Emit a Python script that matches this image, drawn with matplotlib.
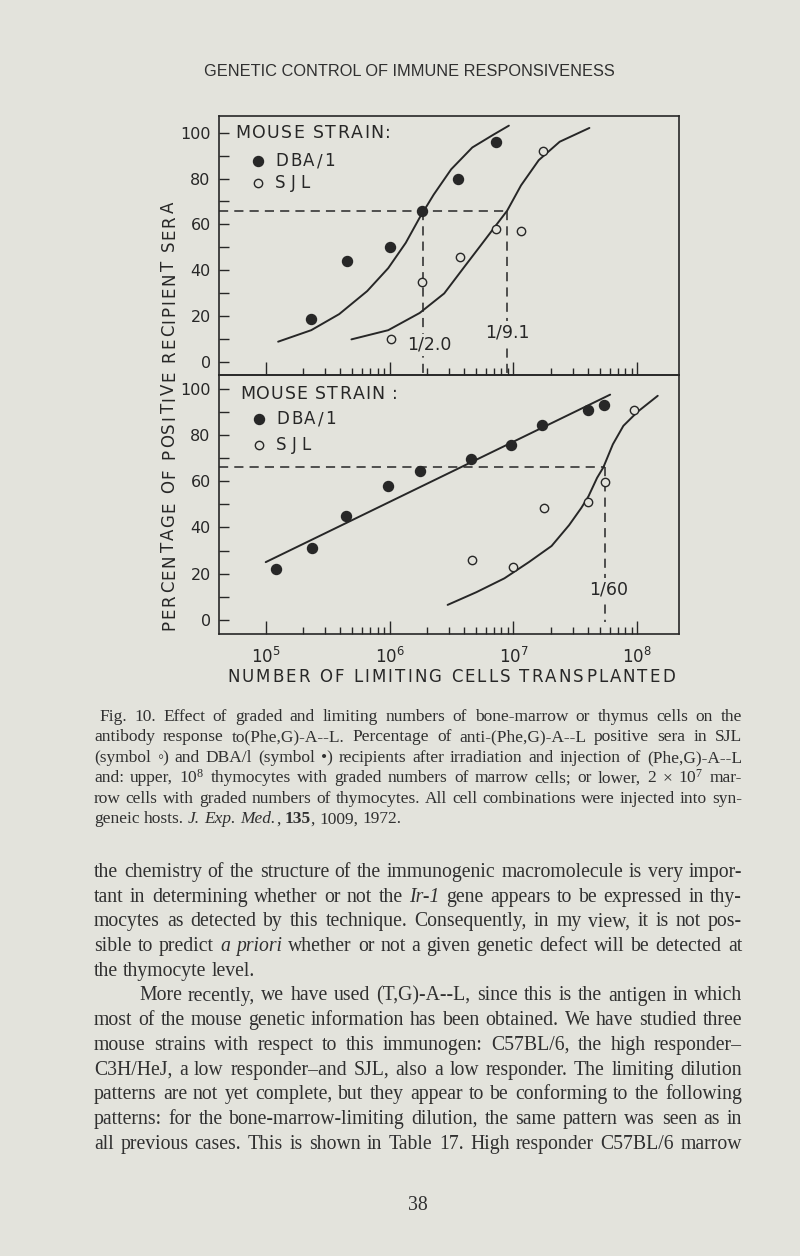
import re

import matplotlib
import matplotlib.pyplot as plt
from matplotlib.ticker import FixedLocator

matplotlib.use("Agg")

plt.rcParams["mathtext.fontset"] = "custom"
plt.rcParams["mathtext.rm"] = "Liberation Serif"
plt.rcParams["mathtext.it"] = "Liberation Serif:italic"
plt.rcParams["mathtext.bf"] = "Liberation Serif:bold"
plt.rcParams["mathtext.sf"] = "DejaVu Sans"

W, H = 800, 1256
BG = "#e3e3dc"
INK = "#272727"
TXT = "#303030"
SANS = ["DejaVu Sans"]
SERIF = ["Liberation Serif", "DejaVu Sans"]

# ---- values ----
x_ticks = [1e5, 1e6, 1e7, 1e8]
x_tick_labels = [r"$\mathsf{10^{5}}$", r"$\mathsf{10^{6}}$",
                 r"$\mathsf{10^{7}}$", r"$\mathsf{10^{8}}$"]
y_ticks = [0, 20, 40, 60, 80, 100]
y_tick_labels = ["0", "20", "40", "60", "80", "100"]

# upper panel: 10^8 thymocytes + graded marrow
upper_dba_x = [2.33e5, 4.55e5, 1.01e6, 1.82e6, 3.58e6, 7.23e6]
upper_dba_y = [19, 44, 50, 66, 80, 96]
upper_sjl_x = [1.03e6, 1.83e6, 3.67e6, 7.23e6, 1.16e7, 1.74e7]
upper_sjl_y = [10, 35, 46, 58, 57, 92]
upper_dba_curve_x = [1.26e5, 2.33e5, 3.92e5, 6.59e5, 9.75e5, 1.35e6,
                     1.75e6, 2.27e6, 3.14e6, 4.65e6, 6.85e6, 9.18e6]
upper_dba_curve_y = [9, 14, 21, 31, 41, 52, 63, 73, 84, 93.5, 99, 103]
upper_sjl_curve_x = [4.92e5, 9.75e5, 1.75e6, 2.76e6, 4.07e6, 5.64e6,
                     7.31e6, 8.89e6, 1.15e7, 1.60e7, 2.36e7, 4.10e7]
upper_sjl_curve_y = [10, 14, 21.5, 30, 42, 52, 60, 66, 77, 88, 96, 102]
upper_half = 66
upper_cross_x = [1.87e6, 8.89e6]
upper_cross_labels = ["1/2.0", "1/9.1"]
upper_label_x = [2.08e6, 8.89e6]
upper_label_y = [7.7, 13.2]

# lower panel: 2x10^7 marrow + graded thymocytes
lower_dba_x = [1.21e5, 2.36e5, 4.47e5, 9.62e5, 1.77e6, 4.50e6,
               9.62e6, 1.71e7, 3.97e7, 5.40e7]
lower_dba_y = [22, 31, 45, 58, 64.5, 69.5, 75.5, 84.5, 91, 93]
lower_sjl_x = [4.65e6, 1.0e7, 1.76e7, 3.97e7, 5.53e7, 9.38e7]
lower_sjl_y = [26, 23, 48.5, 51, 59.5, 91]
lower_dba_line_x = [1.0e5, 6.03e7]
lower_dba_line_y = [25, 97.5]
lower_sjl_curve_x = [2.94e6, 5.02e6, 8.45e6, 1.33e7, 2.03e7, 2.81e7, 3.53e7,
                     4.03e7, 4.73e7, 5.31e7, 6.34e7, 7.71e7, 1.0e8, 1.46e8]
lower_sjl_curve_y = [6.5, 12, 18, 25, 32, 41, 48.5, 53.5, 61.5, 66,
                     76, 84, 90, 97]
lower_half = 66
lower_cross_x = [5.45e7]
lower_cross_labels = ["1/60"]
lower_label_x = [5.9e7]
lower_label_y = [13.2]

legend_title = ["MOUSE STRAIN:", "MOUSE STRAIN :"]
legend_names = ["DBA/1", "SJL"]

title = "GENETIC CONTROL OF IMMUNE RESPONSIVENESS"
y_label = "PERCENTAGE OF POSITIVE RECIPIENT SERA"
x_label = "NUMBER OF LIMITING CELLS TRANSPLANTED"

caption = [
    "Fig. 10. Effect of graded and limiting numbers of bone-marrow or thymus cells on the",
    "antibody response to(Phe,G)-A--L. Percentage of anti-(Phe,G)-A--L positive sera in SJL",
    "(symbol \u25e6) and DBA/l (symbol \u2022) recipients after irradiation and injection of (Phe,G)-A--L",
    "and: upper, 10$^8$ thymocytes with graded numbers of marrow cells; or lower, 2 \u00d7 10$^7$ mar-",
    "row cells with graded numbers of thymocytes. All cell combinations were injected into syn-",
    "geneic hosts. _J._ _Exp._ _Med._, *135*, 1009, 1972.",
]
body = [
    "the chemistry of the structure of the immunogenic macromolecule is very impor-",
    "tant in determining whether or not the _Ir-1_ gene appears to be expressed in thy-",
    "mocytes as detected by this technique. Consequently, in my view, it is not pos-",
    "sible to predict _a_ _priori_ whether or not a given genetic defect will be detected at",
    "the thymocyte level.",
    "More recently, we have used (T,G)-A--L, since this is the antigen in which",
    "most of the mouse genetic information has been obtained. We have studied three",
    "mouse strains with respect to this immunogen: C57BL/6, the high responder\u2013",
    "C3H/HeJ, a low responder\u2013and SJL, also a low responder. The limiting dilution",
    "patterns are not yet complete, but they appear to be conforming to the following",
    "patterns: for the bone-marrow-limiting dilution, the same pattern was seen as in",
    "all previous cases. This is shown in Table 17. High responder C57BL/6 marrow",
]
page_number = "38"

fig = plt.figure(figsize=(W / 100, H / 100), dpi=100, facecolor=BG)
renderer = fig.canvas.get_renderer()


def measure(s, size, family=SANS, **kw):
    t = fig.text(0, 0, s, fontsize=size, family=family, **kw)
    w = t.get_window_extent(renderer).width
    t.remove()
    return w


def tracked(x0, y, s, size, span, rotation=0):
    """Letter-spaced sans text; x0,y in px (start of string, centre line)."""
    widths = [size * 0.318 * 100 / 72 if ch == " " else measure(ch, size)
              for ch in s]
    track = (span - sum(widths)) / (len(s) - 1)
    pos = 0.0
    for ch, w in zip(s, widths):
        if ch != " ":
            if rotation == 90:
                xy = (x0 / W, 1 - (y - pos) / H)
            else:
                xy = ((x0 + pos) / W, 1 - y / H)
            fig.text(*xy, ch, fontsize=size, family=SANS, color=INK,
                     ha="left", va="center", rotation=rotation,
                     rotation_mode="anchor")
        pos += w + track


# ---- chart ----
L, R = 219, 679
XLIM = (10 ** 4.623, 10 ** 8.336)
minor_x = [k * 10 ** d for d in (5, 6, 7) for k in range(2, 10)]


def make_panel(top, bottom, ylim, show_x):
    ax = fig.add_axes([L / W, 1 - bottom / H, (R - L) / W, (bottom - top) / H])
    ax.set_facecolor("none")
    ax.set_xscale("log")
    ax.set_xlim(*XLIM)
    ax.set_ylim(*ylim)
    ax.xaxis.set_major_locator(FixedLocator(x_ticks))
    ax.xaxis.set_minor_locator(FixedLocator(minor_x))
    ax.set_yticks(y_ticks)
    ax.set_yticklabels(y_tick_labels)
    ax.yaxis.set_minor_locator(FixedLocator([10, 30, 50, 70, 90]))
    ax.tick_params(axis="x", which="major", direction="in", length=9.5,
                   width=1.0, color=INK, top=False, pad=9)
    ax.tick_params(axis="x", which="minor", direction="in", length=5,
                   width=1.0, color=INK, top=False)
    ax.tick_params(axis="y", which="both", direction="in", length=7.5,
                   width=1.0, color=INK, right=False, labelsize=11.5,
                   labelcolor=INK, pad=6)
    for lab in ax.get_yticklabels():
        lab.set_family(SANS)
    if show_x:
        ax.set_xticklabels(x_tick_labels)
        ax.tick_params(axis="x", labelsize=12, labelcolor=INK)
    else:
        ax.tick_params(axis="x", which="both", labelbottom=False)
    for s in ax.spines.values():
        s.set_linewidth(1.2)
        s.set_color(INK)
    return ax


def legend(head, head_xy, head_span, mark_x, mark_y, text_x, spans):
    tracked(head_xy[0], head_xy[1], head, 12.5, head_span)
    fig.lines.append(plt.Line2D([mark_x / W], [1 - mark_y[0] / H], marker="o",
                                ms=7.2, color=INK, ls="none",
                                transform=fig.transFigure))
    fig.lines.append(plt.Line2D([mark_x / W], [1 - mark_y[1] / H], marker="o",
                                ms=6, mfc="none", mec=INK, mew=1.0, ls="none",
                                transform=fig.transFigure))
    for name, yy, sp in zip(legend_names, mark_y, spans):
        tracked(text_x, yy, name, 12, sp)


def panel_marks(ax, dba_x, dba_y, sjl_x, sjl_y, curves, half, cross_x,
                labels, lab_x, lab_y, ybot):
    dash = (0, (6, 4))
    for cx, cy in curves:
        ax.plot(cx, cy, color=INK, lw=1.4, solid_capstyle="round")
    ax.plot([XLIM[0], max(cross_x)], [half, half], color=INK, lw=1.1, ls=dash)
    for xv in cross_x:
        ax.plot([xv, xv], [half, ybot], color=INK, lw=1.1, ls=dash)
    for t, xv, yv in zip(labels, lab_x, lab_y):
        ax.text(xv, yv, t, ha="center", va="center", fontsize=12.5,
                color=INK, family=SANS, zorder=5,
                bbox=dict(fc=BG, ec="none", pad=1.5))
    ax.plot(dba_x, dba_y, "o", ms=7.2, color=INK, zorder=6)
    ax.plot(sjl_x, sjl_y, "o", ms=6, mfc=BG, mec=INK, mew=1.0, zorder=6)


ax_up = make_panel(116, 375, (-5.5, 107.2), False)
panel_marks(ax_up, upper_dba_x, upper_dba_y, upper_sjl_x, upper_sjl_y,
            [(upper_dba_curve_x, upper_dba_curve_y),
             (upper_sjl_curve_x, upper_sjl_curve_y)],
            upper_half, upper_cross_x, upper_cross_labels,
            upper_label_x, upper_label_y, -5.5)
legend(legend_title[0], (235, 133), 156, 258, [161, 183], 275, [60, 35])

ax_lo = make_panel(375, 634, (-6.1, 106), True)
panel_marks(ax_lo, lower_dba_x, lower_dba_y, lower_sjl_x, lower_sjl_y,
            [(lower_dba_line_x, lower_dba_line_y),
             (lower_sjl_curve_x, lower_sjl_curve_y)],
            lower_half, lower_cross_x, lower_cross_labels,
            lower_label_x, lower_label_y, -1)
legend(legend_title[1], (240, 394), 158, 259, [419, 445], 276, [60, 35])

tracked(169, 630, y_label, 12, 428, rotation=90)
tracked(451 - 224, 677, x_label, 12, 448)
fig.text(409 / W, 1 - 72 / H, title, ha="center", va="center", fontsize=11.8,
         color=TXT, family=["Liberation Sans"])


# ---- running text, justified word by word ----
def parse_word(word):
    runs = []
    for part in re.split(r"(_[^_]+_|\*[^*]+\*)", word):
        if not part:
            continue
        if part.startswith("_"):
            runs.append((part[1:-1], "italic", "normal"))
        elif part.startswith("*"):
            runs.append((part[1:-1], "normal", "bold"))
        else:
            runs.append((part, "normal", "normal"))
    return runs


def set_line(text, base, x0, x1, size, justify):
    items = []
    for word in text.split():
        runs = []
        for s, st, wt in parse_word(word):
            t = fig.text(0, 0, s, fontsize=size, fontstyle=st, fontweight=wt,
                         family=SERIF, color=TXT, ha="left", va="baseline")
            runs.append((t, t.get_window_extent(renderer).width))
        items.append((runs, sum(w for _, w in runs)))
    total = sum(w for _, w in items)
    if justify and len(items) > 1:
        gap = (x1 - x0 - total) / (len(items) - 1)
    else:
        gap = size * 0.25 * 100 / 72
    x = x0
    for runs, width in items:
        xx = x
        for t, w in runs:
            t.set_position((xx / W, 1 - base / H))
            xx += w
        x += width + gap


TL, TR = 94, 742
for i, line in enumerate(caption):
    x0 = TL + 5 if i == 0 else TL
    set_line(line, 721 + i * 20.45, x0, TR, 12.5, i < len(caption) - 1)

for i, line in enumerate(body):
    x0 = TL + 45 if i == 5 else TL
    set_line(line, 877 + i * 24.7, x0, TR, 14.2, i != 4)

fig.text(418 / W, 1 - 1210 / H, page_number, ha="center", va="baseline",
         fontsize=14.2, color=TXT, family=SERIF)

fig.savefig("out.png", dpi=100, facecolor=BG)
